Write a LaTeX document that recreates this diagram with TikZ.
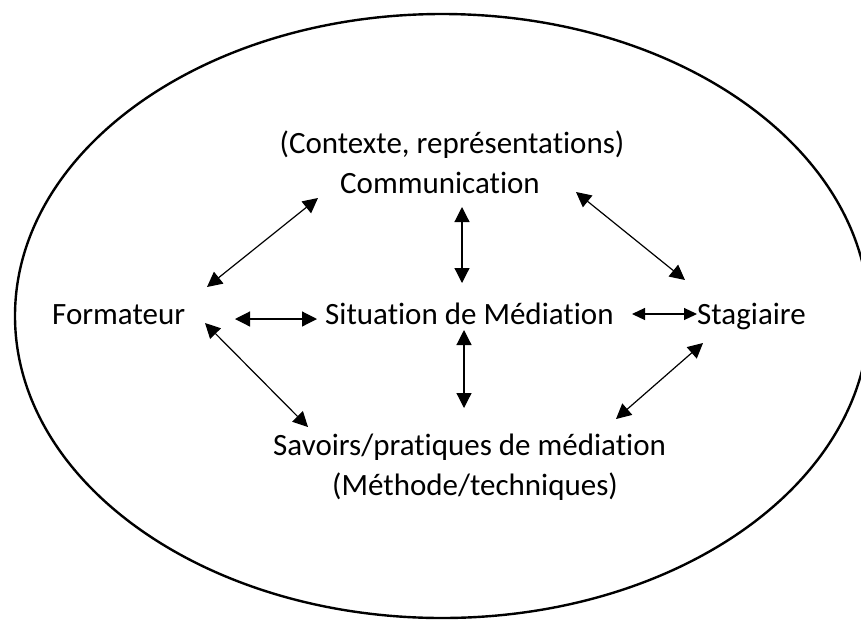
\documentclass[tikz,border=0pt]{standalone}
\usepackage{fontspec}
\setmainfont{Carlito}[Ligatures={NoCommon}]
\usetikzlibrary{arrows.meta}
\begin{document}
\begin{tikzpicture}[x=1pt,y=-1pt,
  lbl/.style={inner sep=0pt, font=\fontsize{31}{37}\selectfont},
  link/.style={line width=1.2pt, {Triangle[length=15pt,width=15pt]}-{Triangle[length=15pt,width=15pt]}},
  smalllink/.style={line width=1.2pt, {Triangle[length=13pt,width=12pt]}-{Triangle[length=13pt,width=12pt]}}]
\useasboundingbox (0,0) rectangle (861,619);
\clip (0,0) rectangle (861,619);
\draw[line width=2.4pt] (442,316) ellipse [x radius=427pt, y radius=302pt];
\node[lbl, anchor=base] (ctx) at (452,153) {(Contexte, représentations)};
\node[lbl, anchor=base] (com) at (440,193) {Communication};
\node[lbl, anchor=base west] (form) at (52,324) {Formateur};
\node[lbl, anchor=base west] (sit) at (325,324) {Situation de Médiation};
\node[lbl, anchor=base west] (stag) at (697,324) {Stagiaire};
\node[lbl, anchor=base west] (sav) at (273,455) {Savoirs/pratiques de médiation};
\node[lbl, anchor=base west] (meth) at (332,495) {(Méthode/techniques)};
\coordinate (a1) at (318,198); \coordinate (a2) at (207,287);
\coordinate (b1) at (205,323); \coordinate (b2) at (308,427);
\coordinate (c1) at (576,192); \coordinate (c2) at (685,280);
\coordinate (d1) at (703,343); \coordinate (d2) at (616,419);
\coordinate (e1) at (235,319); \coordinate (e2) at (317,319);
\coordinate (f1) at (632,314); \coordinate (f2) at (697,314);
\coordinate (g1) at (462,207); \coordinate (g2) at (462,283);
\coordinate (h1) at (464,330); \coordinate (h2) at (464,408);
\draw[link] (a1) -- (a2);
\draw[link] (b1) -- (b2);
\draw[link] (c1) -- (c2);
\draw[link] (d1) -- (d2);
\draw[link] (e1) -- (e2);
\draw[smalllink] (f1) -- (f2);
\draw[link] (g1) -- (g2);
\draw[link] (h1) -- (h2);
\end{tikzpicture}
\end{document}
